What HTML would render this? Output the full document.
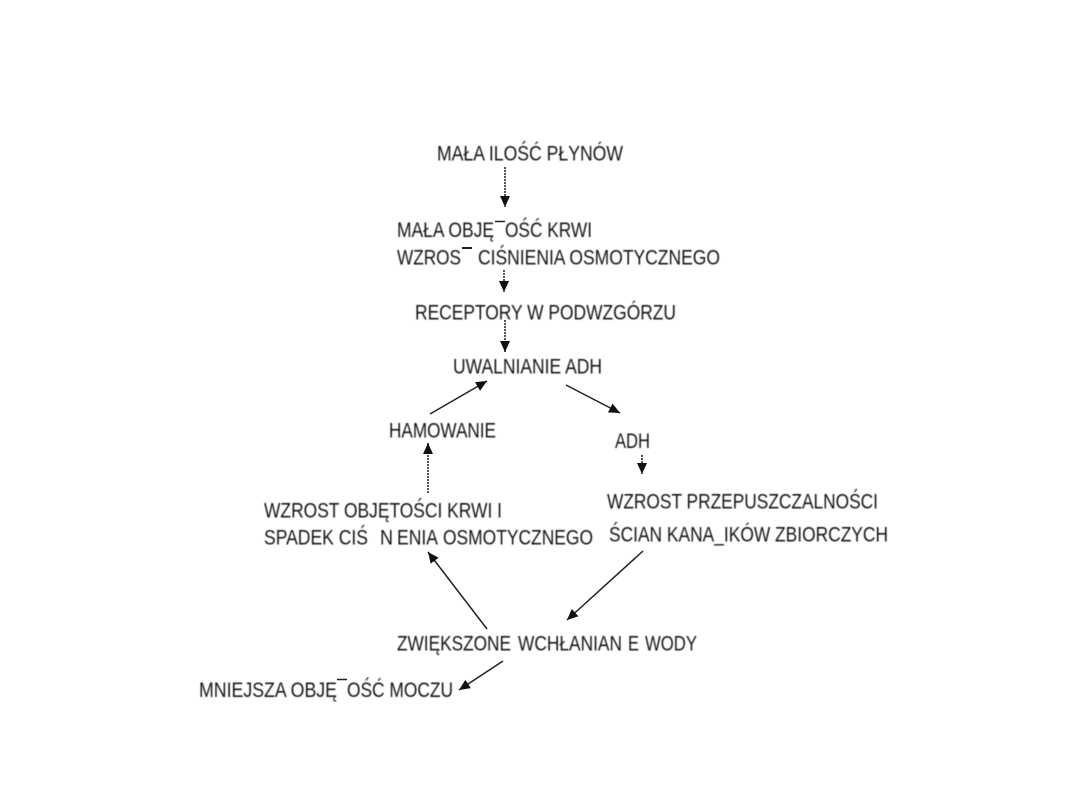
<!DOCTYPE html>
<html>
<head>
<meta charset="utf-8">
<style>
html,body{margin:0;padding:0;background:#fff;width:1080px;height:810px;overflow:hidden}
svg{display:block}
text{font-family:"Liberation Sans",sans-serif;font-size:21px;fill:#151515}
#t{filter:blur(.45px)}
#a{filter:blur(.3px)}
</style>
</head>
<body>
<svg width="1080" height="810" viewBox="0 0 1080 810" xmlns="http://www.w3.org/2000/svg">
<defs>
<marker id="h" markerUnits="userSpaceOnUse" markerWidth="12" markerHeight="12" refX="11" refY="6" orient="auto">
<path d="M0,1 L11,6 L0,11 Z" fill="#111"/>
</marker>
</defs>
<g id="t">
<text x="437" y="160.5" textLength="186" lengthAdjust="spacingAndGlyphs">MAŁA ILOŚĆ PŁYNÓW</text>
<text x="397" y="237" textLength="97" lengthAdjust="spacingAndGlyphs">MAŁA OBJĘ</text>
<text x="505" y="237" textLength="87" lengthAdjust="spacingAndGlyphs">OŚĆ KRWI</text>
<text x="397" y="264.5" textLength="64" lengthAdjust="spacingAndGlyphs">WZROS</text>
<text x="478" y="264.5" textLength="242" lengthAdjust="spacingAndGlyphs">CIŚNIENIA OSMOTYCZNEGO</text>
<text x="415" y="319.5" textLength="261" lengthAdjust="spacingAndGlyphs">RECEPTORY W PODWZGÓRZU</text>
<text x="453" y="373.5" textLength="149" lengthAdjust="spacingAndGlyphs">UWALNIANIE ADH</text>
<text x="389" y="437.5" textLength="107" lengthAdjust="spacingAndGlyphs">HAMOWANIE</text>
<text x="615" y="448" textLength="35" lengthAdjust="spacingAndGlyphs">ADH</text>
<text x="264" y="517.5" textLength="238" lengthAdjust="spacingAndGlyphs">WZROST OBJĘTOŚCI KRWI I</text>
<text x="264" y="544.5" textLength="104" lengthAdjust="spacingAndGlyphs">SPADEK CIŚ</text>
<text x="380" y="544.5" textLength="13" lengthAdjust="spacingAndGlyphs">N</text>
<text x="397" y="544.5" textLength="41" lengthAdjust="spacingAndGlyphs">ENIA</text>
<text x="443" y="544.5" textLength="150" lengthAdjust="spacingAndGlyphs">OSMOTYCZNEGO</text>
<text x="607" y="508.5" textLength="271" lengthAdjust="spacingAndGlyphs">WZROST PRZEPUSZCZALNOŚCI</text>
<text x="609" y="541.5" textLength="279" lengthAdjust="spacingAndGlyphs">ŚCIAN KANA_IKÓW ZBIORCZYCH</text>
<text x="397" y="650.5" textLength="114" lengthAdjust="spacingAndGlyphs">ZWIĘKSZONE</text>
<text x="518" y="650.5" textLength="104" lengthAdjust="spacingAndGlyphs">WCHŁANIAN</text>
<text x="628" y="650.5" textLength="11" lengthAdjust="spacingAndGlyphs">E</text>
<text x="645" y="650.5" textLength="52" lengthAdjust="spacingAndGlyphs">WODY</text>
<text x="199" y="697" textLength="138" lengthAdjust="spacingAndGlyphs">MNIEJSZA OBJĘ</text>
<text x="347" y="697" textLength="106" lengthAdjust="spacingAndGlyphs">OŚĆ MOCZU</text>
</g>
<g id="a" stroke="#222" stroke-width="1.5" fill="none">
<line x1="495" y1="221.5" x2="505" y2="221.5"/>
<line x1="462" y1="248" x2="472" y2="248" stroke-width="2"/>
<line x1="337" y1="679.5" x2="347" y2="679.5"/>
<line x1="505" y1="167" x2="505" y2="207" stroke-width="2" stroke="#555" stroke-dasharray="2 1" marker-end="url(#h)"/>
<line x1="504" y1="270" x2="504" y2="292" stroke-width="2" stroke="#555" stroke-dasharray="2 1" marker-end="url(#h)"/>
<line x1="505" y1="320" x2="505" y2="352" stroke-width="2" stroke="#555" stroke-dasharray="2 1" marker-end="url(#h)"/>
<line x1="430" y1="414" x2="487" y2="381" marker-end="url(#h)"/>
<line x1="566" y1="385" x2="620" y2="413" marker-end="url(#h)"/>
<line x1="642" y1="455" x2="642" y2="474" stroke-width="2" stroke="#555" stroke-dasharray="2 1" marker-end="url(#h)"/>
<line x1="428" y1="493" x2="428" y2="443" stroke-width="2" stroke="#555" stroke-dasharray="2 1" marker-end="url(#h)"/>
<line x1="643" y1="551" x2="567" y2="620" marker-end="url(#h)"/>
<line x1="487" y1="629" x2="428" y2="552" marker-end="url(#h)"/>
<line x1="503" y1="661" x2="459" y2="690" marker-end="url(#h)"/>
</g>
</svg>
</body>
</html>
